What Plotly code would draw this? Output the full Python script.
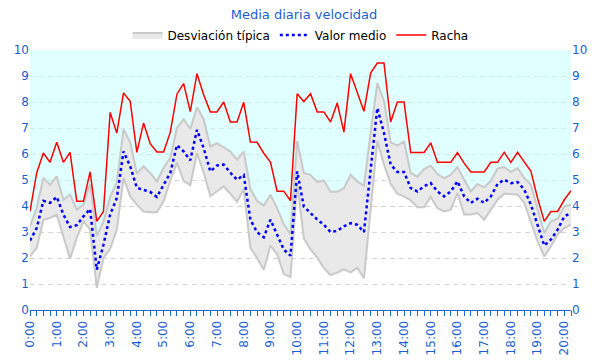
import plotly.graph_objects as go

# 15-minute categories from 0:00 to 20:15
times = [f"{h}:{m:02d}" for h in range(21) for m in (0, 15, 30, 45)][:82]
tick_text = [t if t.endswith(":00") else "" for t in times]

racha = [3.79, 5.27, 6.04, 5.68, 6.45, 5.68, 6.06, 4.18, 4.18, 5.31,
         3.41, 3.79, 7.60, 6.81, 8.35, 8.03, 6.06, 7.19, 6.40, 6.08,
         6.08, 6.83, 8.30, 8.71, 7.63, 9.09, 8.28, 7.62, 7.62, 8.00,
         7.23, 7.23, 7.99, 6.46, 6.45, 6.03, 5.69, 4.57, 4.57, 4.20,
         8.32, 8.02, 8.32, 7.62, 7.62, 7.23, 7.96, 6.84, 9.09, 8.40,
         7.64, 9.11, 9.50, 9.50, 7.23, 8.00, 8.00, 6.06, 6.06, 6.06,
         6.43, 5.68, 5.68, 5.68, 6.05, 5.65, 5.31, 5.31, 5.31, 5.68,
         5.68, 6.06, 5.68, 6.06, 5.68, 5.33, 4.30, 3.41, 3.79, 3.79,
         4.24, 4.59]

media = [2.67, 3.15, 4.20, 4.12, 4.35, 3.67, 3.19, 3.26, 3.60, 3.88,
         1.55, 2.51, 3.67, 4.31, 6.10, 5.53, 4.70, 4.63, 4.54, 4.35,
         4.82, 5.27, 6.34, 6.10, 5.76, 6.93, 6.23, 5.33, 5.56, 5.59,
         5.28, 5.01, 5.19, 3.47, 2.99, 2.80, 3.47, 2.90, 2.32, 2.09,
         5.33, 3.98, 3.73, 3.48, 3.28, 3.00, 3.04, 3.22, 3.34, 3.28,
         3.00, 5.35, 7.77, 6.81, 5.59, 5.31, 5.31, 4.69, 4.56, 4.76,
         4.88, 4.56, 4.37, 4.56, 4.95, 4.37, 4.12, 4.28, 4.12, 4.37,
         4.85, 5.01, 4.88, 4.92, 4.63, 4.05, 3.28, 2.48, 2.71, 3.09,
         3.60, 3.73]

desv_sup = [3.22, 3.92, 5.08, 4.82, 5.14, 4.24, 4.44, 3.86, 4.05, 4.85,
            2.85, 3.40, 4.35, 4.90, 6.95, 6.45, 5.25, 5.53, 5.27, 4.95,
            5.46, 5.85, 7.00, 7.34, 6.96, 7.80, 7.34, 6.29, 6.42, 6.25,
            6.10, 5.78, 6.10, 4.65, 4.20, 4.02, 4.43, 3.92, 3.30, 2.92,
            6.50, 5.27, 5.20, 4.93, 4.98, 4.55, 4.55, 4.68, 5.20, 4.94,
            4.78, 6.80, 8.73, 8.05, 6.45, 6.32, 6.48, 5.27, 5.13, 5.42,
            5.55, 5.23, 5.07, 5.20, 5.50, 5.01, 4.56, 4.85, 4.72, 4.97,
            5.44, 5.50, 5.31, 5.46, 5.08, 4.82, 3.92, 2.96, 3.41, 3.51,
            3.99, 4.05]

desv_inf = [2.06, 2.38, 3.47, 3.54, 3.67, 2.83, 1.97, 2.77, 3.41, 3.09,
            0.85, 2.00, 2.35, 3.09, 5.08, 4.37, 4.05, 3.79, 3.76, 3.76,
            4.18, 4.97, 5.67, 4.97, 4.80, 6.03, 5.30, 4.38, 4.58, 4.75,
            4.47, 4.16, 4.65, 2.40, 2.00, 1.55, 2.48, 2.15, 1.38, 1.27,
            4.90, 2.75, 2.33, 2.02, 1.61, 1.34, 1.44, 1.56, 1.45, 1.62,
            1.22, 3.80, 6.50, 5.60, 4.85, 4.46, 4.37, 4.22, 3.95, 3.95,
            4.35, 3.92, 3.79, 3.86, 4.50, 3.67, 3.67, 3.73, 3.47, 3.86,
            4.24, 4.47, 4.46, 4.44, 4.12, 3.41, 2.64, 2.06, 2.45, 2.90,
            3.15, 3.28]

y_max = 10
techo = [y_max] * len(times)

BLUE_TXT = "#1B5FD0"
AXIS_BLUE = "#1E6AD0"
FONT = "DejaVu Sans"
W, H = 592, 352  # page body has an 8px margin

fig = go.Figure()

fig.add_trace(go.Scatter(
    x=times, y=desv_inf, mode="lines",
    line=dict(color="#C9C9C9", width=2),
    showlegend=False, hoverinfo="skip"))
fig.add_trace(go.Scatter(
    x=times, y=desv_sup, mode="lines", name="Desviación típica",
    line=dict(color="#C9C9C9", width=2),
    fill="tonexty", fillcolor="#E9E9E9"))
fig.add_trace(go.Scatter(
    x=times, y=techo, mode="lines",
    line=dict(width=0, color="rgba(0,0,0,0)"),
    fill="tonexty", fillcolor="rgba(199,255,255,0.55)",
    showlegend=False, hoverinfo="skip"))
fig.add_trace(go.Scatter(
    x=times, y=media, mode="lines", name="Valor medio",
    line=dict(color="#0000FF", width=2.5, dash="3px,3px")))
fig.add_trace(go.Scatter(
    x=times, y=racha, mode="lines", name="Racha",
    line=dict(color="#FF0000", width=1.5), yaxis="y2"))

fig.update_layout(
    width=W, height=H,
    margin=dict(l=22, r=29, t=42, b=50, autoexpand=False),
    paper_bgcolor="white", plot_bgcolor="white",
    font=dict(family=FONT, size=12, color="black"),
    title=dict(text="Media diaria velocidad", x=0.5, xanchor="center",
               y=1 - 6 / H, yanchor="middle",
               font=dict(family=FONT, size=13, color=BLUE_TXT)),
    legend=dict(orientation="h", x=0.5, xanchor="center",
                yref="container", y=1 - 27 / H, yanchor="middle",
                traceorder="normal",
                font=dict(family=FONT, size=12, color="black"),
                itemwidth=30, bgcolor="rgba(0,0,0,0)"),
    xaxis=dict(type="category", range=[0, len(times) - 1],
               tickmode="array", tickvals=times, ticktext=tick_text,
               tickangle=-90, ticks="outside", ticklen=5,
               tickcolor=AXIS_BLUE, showline=True, linecolor=AXIS_BLUE,
               linewidth=1, showgrid=False, zeroline=False, automargin=False,
               tickfont=dict(family=FONT, size=12, color=BLUE_TXT)),
    yaxis=dict(range=[0, y_max], dtick=1, showgrid=True,
               gridcolor="#DAD5D5", griddash="5px,4px", gridwidth=1,
               zeroline=False, showline=False, ticks="", automargin=False,
               tickfont=dict(family=FONT, size=12, color=BLUE_TXT)),
    yaxis2=dict(range=[0, y_max], dtick=1, overlaying="y", side="right",
                showgrid=False, zeroline=False, showline=False, ticks="",
                automargin=False,
                tickfont=dict(family=FONT, size=12, color=BLUE_TXT)),
    showlegend=True,
)

fig.write_html("out.html")
